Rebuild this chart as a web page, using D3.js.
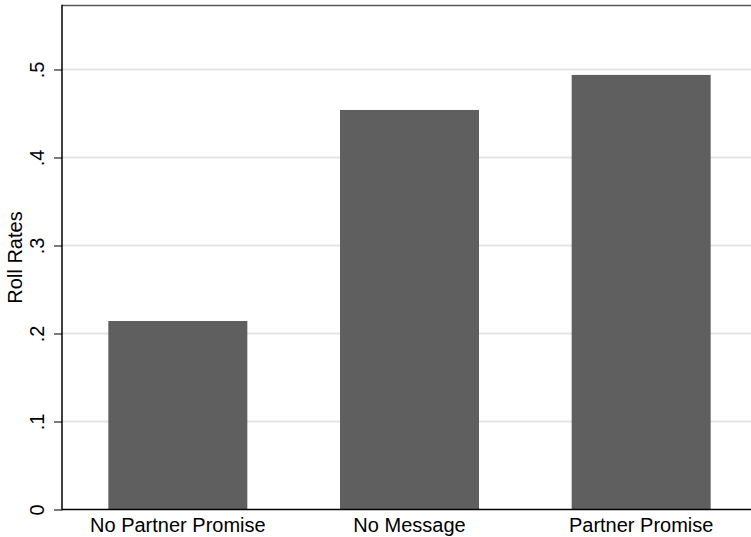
<!DOCTYPE html>
<html><head><meta charset="utf-8">
<script src="https://cdn.jsdelivr.net/npm/d3@7"></script>
<style>body{margin:0;background:#fff;} svg{display:block;} text{font-family:"Liberation Sans",Arial,Helvetica,sans-serif;}</style>
</head><body>
<svg id="c" width="751" height="537"></svg>
<script>
const categories = ["No Partner Promise", "No Message", "Partner Promise"];
const rollRates = [0.2142, 0.454, 0.4938];
const yTicks = [0, 0.1, 0.2, 0.3, 0.4, 0.5];
const yTickLabels = ["0", ".1", ".2", ".3", ".4", ".5"];
const yTitle = "Roll Rates";

const svg = d3.select("#c");
const pLeft = 62, pRight = 757, pTop = 5.5, pBottom = 509.5;
const y = d3.scaleLinear().domain([0, 0.5727]).range([pBottom, pTop]);
const x = d3.scaleBand().domain(categories).range([pLeft, pRight]).paddingInner(0.4).paddingOuter(0.2);

// gridlines
svg.append("g").selectAll("line").data(yTicks.slice(1)).join("line")
  .attr("x1", pLeft).attr("x2", 751).attr("y1", d => y(d)).attr("y2", d => y(d))
  .attr("stroke", "#e3e3e3").attr("stroke-width", 1.8);

// top border
svg.append("line").attr("x1", pLeft).attr("x2", 751).attr("y1", pTop).attr("y2", pTop)
  .attr("stroke", "#555").attr("stroke-width", 1.5);

// bars
svg.append("g").selectAll("rect").data(rollRates).join("rect")
  .attr("x", (d, i) => x(categories[i])).attr("width", x.bandwidth())
  .attr("y", d => y(d)).attr("height", d => pBottom - y(d))
  .attr("fill", "#5f5f5f");

// y axis
const yAxis = d3.axisLeft(y).tickValues(yTicks).tickFormat((d, i) => yTickLabels[i]).tickSize(8).tickPadding(0);
const ga = svg.append("g").attr("transform", `translate(${pLeft},0)`).call(yAxis);
ga.select(".domain").remove();
ga.selectAll(".tick line").attr("stroke", "#333").attr("stroke-width", 1.3);
ga.selectAll(".tick text").attr("transform", "rotate(-90)").attr("x", 0).attr("y", -18)
  .attr("dy", 0).attr("text-anchor", "middle").attr("font-size", 20).attr("fill", "#000");
svg.append("line").attr("x1", pLeft).attr("x2", pLeft).attr("y1", pTop - 0.7).attr("y2", pBottom + 0.7)
  .attr("stroke", "#000").attr("stroke-width", 1.5);

// x axis
const xAxis = d3.axisBottom(x).tickSize(0).tickPadding(0);
const gx = svg.append("g").attr("transform", `translate(0,${pBottom})`).call(xAxis);
gx.select(".domain").remove();
gx.selectAll(".tick text").attr("y", 22).attr("dy", 0).attr("font-size", 20).attr("fill", "#000");
svg.append("line").attr("x1", pLeft).attr("x2", 751).attr("y1", pBottom).attr("y2", pBottom)
  .attr("stroke", "#000").attr("stroke-width", 1.5);

// y title
svg.append("text").attr("transform", `translate(22,${(pTop + pBottom) / 2}) rotate(-90)`)
  .attr("text-anchor", "middle").attr("font-size", 20).attr("fill", "#000").text(yTitle);
</script>
</body></html>
